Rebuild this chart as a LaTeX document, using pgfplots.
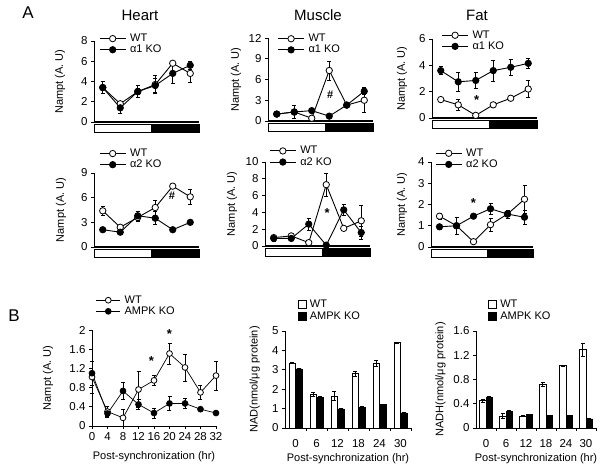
\documentclass[border=0pt]{standalone}
\usepackage{fontspec}
\setmainfont{Liberation Sans}
\usepackage{pgfplots}
\usepackage{pgfplotstable}
\pgfplotsset{compat=1.18}
% x  wt  wte  ko  koe
\pgfplotstableread{
x wt wte ko koe
0 3.4 0.6 3.4 0.6
1 1.8 0.2 1.4 0.5
2 3.0 0.3 3.0 0.6
3 3.7 0.9 3.6 0.7
4 5.8 0.1 4.8 1.0
5 4.8 0.9 5.6 0.4
}\heartA
\pgfplotstableread{
x wt wte ko koe
0 1.0 0.1 1.0 0.3
1 1.3 0.3 1.3 0.9
2 0.4 0.1 1.5 0.2
3 7.3 1.4 0.7 0.1
4 2.3 0.2 2.3 0.2
5 3.0 1.8 4.3 0.4
}\muscleA
\pgfplotstableread{
x wt wte ko koe
0 1.4 0.1 3.6 0.3
1 1.0 0.4 2.75 0.7
2 0.2 0.05 2.85 0.6
3 1.0 0.2 3.6 0.8
4 1.5 0.1 3.85 0.6
5 2.2 0.65 4.15 0.4
}\fatA
\pgfplotstableread{
x wt wte ko koe
0 4.4 0.6 2.1 0.1
1 2.4 0.2 1.8 0.1
2 3.6 0.5 3.8 0.6
3 4.8 0.9 3.5 0.8
4 7.4 0.1 2.1 0.1
5 6.1 0.9 3.0 0.1
}\heartB
\pgfplotstableread{
x wt wte ko koe
0 1.0 0.2 0.9 0.4
1 1.2 0.1 0.9 0.2
2 0.4 0.05 2.6 0.7
3 7.3 1.4 0.1 0.05
4 2.1 0.1 4.3 0.7
5 3.0 1.8 1.6 0.8
}\muscleB
\pgfplotstableread{
x wt wte ko koe
0 1.45 0.15 0.95 0.1
1 1.0 0.4 1.0 0.4
2 0.25 0.05 1.45 0.05
3 1.05 0.3 1.8 0.25
4 1.55 0.2 1.55 0.2
5 2.25 0.65 1.4 0.35
}\fatB
\pgfplotstableread{
x wt wte ko koe
0 1.02 0.33 1.1 0.25
4 0.3 0.12 0.26 0.05
8 0.17 0.17 0.73 0.17
12 0.76 0.37 0.45 0.1
16 0.95 0.1 0.27 0.1
20 1.51 0.22 0.47 0.14
24 1.22 0.28 0.47 0.1
28 0.7 0.15 0.35 0.03
32 1.05 0.3 0.27 0.02
}\namptB
\pgfplotstableread{
x wt wte ko koe
0 3.35 0.03 3.05 0.03
1 1.75 0.1 1.58 0.03
2 1.65 0.22 0.98 0.02
3 2.8 0.12 1.08 0.03
4 3.35 0.15 1.2 0.02
5 4.4 0.03 0.78 0.02
}\nad
\pgfplotstableread{
x wt wte ko koe
0 0.45 0.03 0.51 0.02
1 0.2 0.04 0.28 0.02
2 0.2 0.01 0.22 0.01
3 0.72 0.04 0.21 0.005
4 1.03 0.005 0.21 0.005
5 1.29 0.11 0.15 0.005
}\nadh
\pgfplotsset{
  base/.style={scale only axis, clip=false,
    axis x line*=bottom, axis y line*=left,
    axis line style={-, line width=0.7pt},
    tick align=outside, major tick length=3pt,
    tick style={black, line width=0.6pt},
    ymin=0,
    /pgf/number format/assume math mode=true,
    tick label style={font=\fontsize{11.5}{12}\selectfont},
    ylabel style={font=\fontsize{11}{12}\selectfont, anchor=center},
    legend style={draw=none, fill=none, inner sep=0pt, anchor=north west,
      font=\fontsize{11}{12}\selectfont, row sep=0pt, nodes={inner sep=1pt}},
    legend cell align=left,
  },
  panelA/.style={base, width=105pt, xmin=-0.5, xmax=5.5, xtick=\empty,
    x axis line style={line width=1.1pt},
    ylabel={Nampt (A. U)},
    legend image code/.code={\draw[mark repeat=2,mark phase=2,##1] plot coordinates {(0pt,0pt) (13pt,0pt) (26pt,0pt)}; \path (29pt,0pt);}},
  errs/.style={/pgfplots/error bars/y dir=both, /pgfplots/error bars/y explicit,
    /pgfplots/error bars/error bar style={line width=0.6pt, black},
    /pgfplots/error bars/error mark options={rotate=90, mark size=2pt, line width=0.6pt, black}},
  ebar/.style={black, only marks, mark=none, forget plot, errs},
  wt/.style={black, line width=0.9pt, mark=*, mark size=3.2pt, mark options={fill=white, line width=0.8pt}},
  ko/.style={black, line width=0.9pt, mark=*, mark size=3.2pt, mark options={fill=black, line width=0.8pt}},
  barA/.style={base, ybar=0pt, bar width=6.5pt, xmin=-0.5, xmax=5.5,
    xtick={0,...,5}, xticklabels={0,6,12,18,24,30},
    major x tick style={draw=none},
    minor xtick={0.5,1.5,2.5,3.5,4.5,5.5}, minor tick length=3pt,
    minor x tick style={line width=0.6pt, black},
    xticklabel style={yshift=-5pt},
    xlabel={Post-synchronization (hr)},
    xlabel style={font=\fontsize{11}{12}\selectfont, at={(axis description cs:0.5,0)}, anchor=center, yshift=-31pt},
    legend image code/.code={\draw[##1] (0pt,-4pt) rectangle (8pt,4pt); \path (10pt,0pt);},
    legend style={nodes={inner sep=1.5pt}}},
  bwt/.style={fill=white, draw=black, line width=0.6pt, errs},
  bko/.style={fill=black, draw=black, line width=0.6pt, errs},
}
\newcommand{\daynight}{%
  \draw[line width=0.6pt, fill=white] ([yshift=-2pt]rel axis cs:0,0) rectangle ([yshift=-10pt]rel axis cs:0.55,0);
  \draw[line width=0.6pt, fill=black] ([yshift=-2pt]rel axis cs:0.55,0) rectangle ([yshift=-10pt]rel axis cs:1,0);}
\newcommand{\sigmark}[1]{\node[font=\fontsize{13}{13}\selectfont\bfseries] at (#1) {*};}
\newcommand{\lines}[1]{%
  \addplot[ebar] table[x=x, y=wt, y error=wte] {#1};
  \addplot[ebar] table[x=x, y=ko, y error=koe] {#1};
  \addplot[wt] table[x=x, y=wt] {#1};
  \addplot[ko] table[x=x, y=ko] {#1};}
\begin{document}
\begin{tikzpicture}[x=1pt,y=1pt]
\useasboundingbox (0,0) rectangle (606,471);
% ---------- Row 1 ----------
\begin{axis}[panelA, at={(94pt,349pt)}, anchor=south west, height=81pt,
  ymax=8, ytick={0,2,4,6,8},
  ylabel style={at={(axis description cs:-0.324,0.5)}},
  legend style={at={(axis description cs:0.048,1.1)}}]
\lines{\heartA}
\legend{WT, α1 KO}
\daynight
\end{axis}
\begin{axis}[panelA, at={(268pt,350pt)}, anchor=south west, height=83pt,
  ymax=12, ytick={0,3,6,9,12},
  ylabel style={at={(axis description cs:-0.305,0.5)}},
  legend style={at={(axis description cs:0.09,1.06)}}]
\lines{\muscleA}
\legend{WT, α1 KO}
\node[font=\fontsize{11}{11}\selectfont\bfseries] at (axis cs:3.05,3.8) {\#};
\daynight
\end{axis}
\begin{axis}[panelA, at={(432pt,353pt)}, anchor=south west, height=79pt,
  ymax=6, ytick={0,2,4,6},
  ylabel style={at={(axis description cs:-0.286,0.5)}},
  legend style={at={(axis description cs:0.09,1.12)}}]
\lines{\fatA}
\legend{WT, α1 KO}
\sigmark{axis cs:2.05,1.4}
\daynight
\end{axis}
% ---------- Row 2 ----------
\begin{axis}[panelA, at={(94pt,224pt)}, anchor=south west, height=74pt,
  ymax=9, ytick={0,3,6,9},
  ylabel style={at={(axis description cs:-0.314,0.5)}},
  legend style={at={(axis description cs:0.048,1.34)}}]
\lines{\heartB}
\legend{WT, α2 KO}
\node[font=\fontsize{11}{11}\selectfont\bfseries] at (axis cs:3.95,6.2) {\#};
\daynight
\end{axis}
\begin{axis}[panelA, at={(265pt,225pt)}, anchor=south west, height=84pt,
  ymax=10, ytick={0,2,4,6,8,10},
  ylabel style={at={(axis description cs:-0.314,0.5)}},
  legend style={at={(axis description cs:0.04,1.2)}}]
\lines{\muscleB}
\legend{WT, α2 KO}
\sigmark{axis cs:3.05,3.9}
\daynight
\end{axis}
\begin{axis}[panelA, at={(431pt,224pt)}, anchor=south west, width=102pt, height=85pt,
  ymax=4, ytick={0,1,2,3,4},
  ylabel style={at={(axis description cs:-0.284,0.5)}},
  legend style={at={(axis description cs:0.04,1.17)}}]
\lines{\fatB}
\legend{WT, α2 KO}
\sigmark{axis cs:2.0,2.05}
\daynight
\end{axis}
% ---------- Row B ----------
\begin{axis}[base, at={(92pt,45pt)}, anchor=south west, width=124pt, height=96pt,
  xmin=0, xmax=32, xtick={0,4,...,32}, ymax=2, ytick={0,0.4,0.8,1.2,1.6,2},
  ylabel={Nampt (A. U)},
  ylabel style={at={(axis description cs:-0.355,0.5)}},
  xlabel={Post-synchronization (hr)},
  xlabel style={font=\fontsize{11}{12}\selectfont, at={(axis description cs:0.5,0)}, anchor=center, yshift=-31pt},
  legend style={at={(axis description cs:0.03,1.37)}},
  legend image code/.code={\draw[mark repeat=2,mark phase=2,#1] plot coordinates {(0pt,0pt) (12pt,0pt) (24pt,0pt)}; \path (27pt,0pt);},
  wt/.append style={line width=0.7pt, mark size=2.9pt},
  ko/.append style={line width=0.7pt, mark size=2.9pt}]
\lines{\namptB}
\legend{WT, AMPK KO}
\sigmark{axis cs:15.3,1.35}
\sigmark{axis cs:20,1.92}
\end{axis}
\begin{axis}[barA, at={(285pt,43pt)}, anchor=south west, width=126pt, height=97pt,
  ymax=5, ytick={0,1,2,3,4,5},
  ylabel={NAD(nmol/μg protein)},
  ylabel style={at={(axis description cs:-0.24,0.5)}},
  legend style={at={(axis description cs:0.1,1.34)}}]
\addplot[bwt] table[x=x, y=wt, y error=wte] {\nad};
\addplot[bko] table[x=x, y=ko, y error=koe] {\nad};
\legend{WT, AMPK KO}
\end{axis}
\begin{axis}[barA, at={(476pt,43pt)}, anchor=south west, width=120pt, height=97pt,
  ymax=1.6, ytick={0,0.4,0.8,1.2,1.6},
  ylabel={NADH(nmol/μg protein)},
  ylabel style={at={(axis description cs:-0.295,0.5)}},
  legend style={at={(axis description cs:0.1,1.34)}}]
\addplot[bwt] table[x=x, y=wt, y error=wte] {\nadh};
\addplot[bko] table[x=x, y=ko, y error=koe] {\nadh};
\legend{WT, AMPK KO}
\end{axis}
% ---------- titles ----------
\node[font=\fontsize{15}{16}\selectfont] at (140,456) {Heart};
\node[font=\fontsize{15}{16}\selectfont] at (318,456) {Muscle};
\node[font=\fontsize{15}{16}\selectfont] at (477,456) {Fat};
\node[font=\fontsize{17}{17}\selectfont] at (28,458) {A};
\node[font=\fontsize{17}{17}\selectfont] at (14,155) {B};
\end{tikzpicture}
\end{document}
